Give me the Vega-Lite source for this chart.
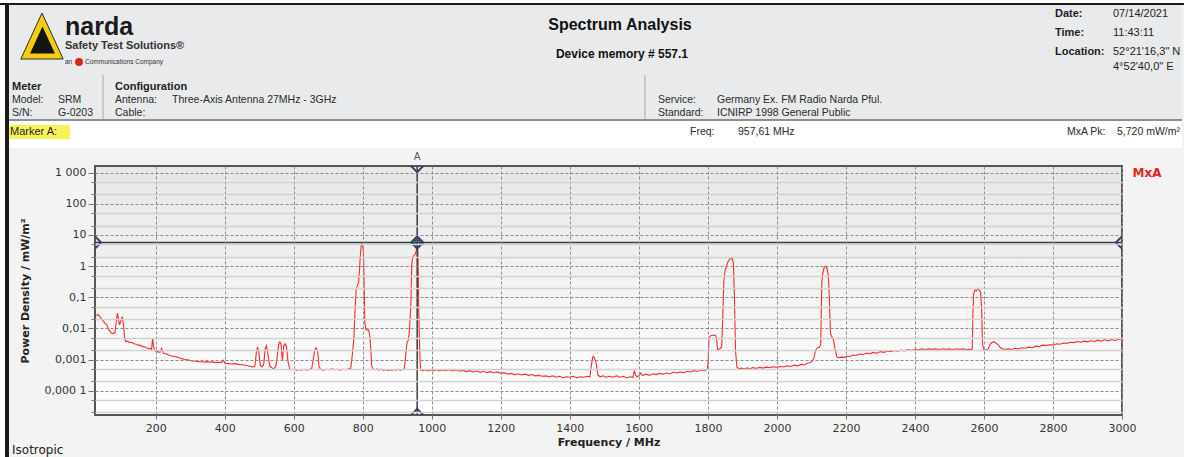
{
"$schema":"https://vega.github.io/schema/vega-lite/v6.json",
"padding":0,
"background":"#f3f3f3",
"spacing":0,
"bounds":"flush",
"config":{"view":{"stroke":null},"text":{"font":"Liberation Sans"}},
"vconcat":[
 {"width":1184,"height":3,"data":{"values":[]},"mark":"point","view":{"fill":"#ffffff"}},
 {"width":1184,"height":2,"data":{"values":[]},"mark":"point","view":{"fill":"#1a1a1a"}},
 {"hconcat":[
  {"width":5,"height":452,"data":{"values":[]},"mark":"point","view":{"fill":"#ffffff"}},
  {"width":2,"height":452,"data":{"values":[]},"mark":"point","view":{"fill":"#1a1a1a"}},
  {"vconcat":[
   {"width":1175,"height":70,"view":{"fill":"#e9eaec"},
    "resolve":{"scale":{"x":"independent","y":"independent"}},
    "layer":[
     {"data":{"values":[{"c":"a","l":1}]},"mark":{"type":"point","shape":"M0,-1L-0.92,1L0.92,1Z","size":2116,"filled":true,"fill":"#f5cd0c","stroke":"#2a2a2a","strokeWidth":1,"opacity":1},
      "encoding":{"x":{"field":"c","type":"nominal","axis":null,"scale":{"type":"point","padding":0,"range":[35,35]}},"y":{"field":"l","type":"ordinal","axis":null,"scale":{"type":"point","padding":0,"range":[31,31]}}}},
     {"data":{"values":[{"c":"a","l":1}]},"mark":{"type":"point","shape":"M0,-1L-0.92,1L0.92,1Z","size":729,"filled":true,"fill":"#141414","strokeWidth":0,"opacity":1},
      "encoding":{"x":{"field":"c","type":"nominal","axis":null,"scale":{"type":"point","padding":0,"range":[35.5,35.5]}},"y":{"field":"l","type":"ordinal","axis":null,"scale":{"type":"point","padding":0,"range":[35,35]}}}},
     {"data":{"values":[{"c":"a","l":1,"t":"narda"}]},"mark":{"type":"text","align":"left","baseline":"alphabetic","fontSize":25,"fontWeight":"bold","fill":"#1a1a1a"},
      "encoding":{"x":{"field":"c","type":"nominal","axis":null,"scale":{"type":"point","padding":0,"range":[58,58]}},"y":{"field":"l","type":"ordinal","axis":null,"scale":{"type":"point","padding":0,"range":[30,30]}},"text":{"field":"t"}}},
     {"data":{"values":[{"c":"a","l":1,"t":"Safety Test Solutions®"}]},"mark":{"type":"text","align":"left","baseline":"middle","fontSize":11,"fontWeight":"bold","fill":"#333333"},
      "encoding":{"x":{"field":"c","type":"nominal","axis":null,"scale":{"type":"point","padding":0,"range":[58,58]}},"y":{"field":"l","type":"ordinal","axis":null,"scale":{"type":"point","padding":0,"range":[41,41]}},"text":{"field":"t"}}},
     {"data":{"values":[{"c":"a","l":1,"t":"an"},{"c":"b","l":1,"t":"Communications Company"}]},"mark":{"type":"text","align":"left","baseline":"middle","fontSize":6.5,"fill":"#333333"},
      "encoding":{"x":{"field":"c","type":"nominal","axis":null,"scale":{"type":"point","padding":0,"range":[58,78]}},"y":{"field":"l","type":"ordinal","axis":null,"scale":{"type":"point","padding":0,"range":[57,57]}},"text":{"field":"t"}}},
     {"data":{"values":[{"c":"a","l":1}]},"mark":{"type":"point","shape":"circle","size":64,"filled":true,"fill":"#d9261c","opacity":1},
      "encoding":{"x":{"field":"c","type":"nominal","axis":null,"scale":{"type":"point","padding":0,"range":[72,72]}},"y":{"field":"l","type":"ordinal","axis":null,"scale":{"type":"point","padding":0,"range":[57,57]}}}},
     {"data":{"values":[{"c":"a","l":1,"t":"Spectrum Analysis"}]},"mark":{"type":"text","align":"center","baseline":"middle","fontSize":16,"fontWeight":"bold","fill":"#111111"},
      "encoding":{"x":{"field":"c","type":"nominal","axis":null,"scale":{"type":"point","padding":0,"range":[613,613]}},"y":{"field":"l","type":"ordinal","axis":null,"scale":{"type":"point","padding":0,"range":[20,20]}},"text":{"field":"t"}}},
     {"data":{"values":[{"c":"a","l":1,"t":"Device memory # 557.1"}]},"mark":{"type":"text","align":"center","baseline":"middle","fontSize":12,"fontWeight":"bold","fill":"#111111"},
      "encoding":{"x":{"field":"c","type":"nominal","axis":null,"scale":{"type":"point","padding":0,"range":[615,615]}},"y":{"field":"l","type":"ordinal","axis":null,"scale":{"type":"point","padding":0,"range":[49,49]}},"text":{"field":"t"}}},
     {"data":{"values":[{"c":"a","l":1,"t":"Date:"},{"c":"a","l":2,"t":"Time:"},{"c":"a","l":3,"t":"Location:"}]},"mark":{"type":"text","align":"left","baseline":"middle","fontSize":11,"fontWeight":"bold","fill":"#1e1e1e"},
      "encoding":{"x":{"field":"c","type":"nominal","axis":null,"scale":{"type":"point","padding":0,"range":[1048,1048]}},"y":{"field":"l","type":"ordinal","axis":null,"scale":{"type":"point","padding":0,"range":[9,47]}},"text":{"field":"t"}}},
     {"data":{"values":[{"c":"a","l":1,"t":"07/14/2021"},{"c":"a","l":2,"t":"11:43:11"},{"c":"a","l":3,"t":"52°21'16,3\" N"}]},"mark":{"type":"text","align":"left","baseline":"middle","fontSize":11,"fill":"#1e1e1e"},
      "encoding":{"x":{"field":"c","type":"nominal","axis":null,"scale":{"type":"point","padding":0,"range":[1106,1106]}},"y":{"field":"l","type":"ordinal","axis":null,"scale":{"type":"point","padding":0,"range":[9,47]}},"text":{"field":"t"}}},
     {"data":{"values":[{"c":"a","l":1,"t":"4°52'40,0\" E"}]},"mark":{"type":"text","align":"left","baseline":"middle","fontSize":11,"fill":"#1e1e1e"},
      "encoding":{"x":{"field":"c","type":"nominal","axis":null,"scale":{"type":"point","padding":0,"range":[1106,1106]}},"y":{"field":"l","type":"ordinal","axis":null,"scale":{"type":"point","padding":0,"range":[62,62]}},"text":{"field":"t"}}}
    ]},
   {"width":1175,"height":44,"view":{"fill":"#e9eaec"},
    "resolve":{"scale":{"x":"independent","y":"independent"}},
    "layer":[
     {"data":{"values":[{"s":"a"},{"s":"b"}]},"mark":{"type":"rule","stroke":"#a8a8a8","strokeWidth":1},
      "encoding":{"x":{"field":"s","type":"nominal","axis":null,"scale":{"type":"point","padding":0,"range":[96,638]}}}},
     {"data":{"values":[{"c":"a","l":1,"t":"Meter"},{"c":"b","l":1,"t":"Configuration"}]},"mark":{"type":"text","align":"left","baseline":"middle","fontSize":11,"fontWeight":"bold","fill":"#1e1e1e"},
      "encoding":{"x":{"field":"c","type":"nominal","axis":null,"scale":{"type":"point","padding":0,"range":[5,108]}},"y":{"field":"l","type":"ordinal","axis":null,"scale":{"type":"point","padding":0,"range":[12,12]}},"text":{"field":"t"}}},
     {"data":{"values":[{"c":"a","l":1,"t":"Model:"},{"c":"b","l":1,"t":"SRM"},{"c":"a","l":2,"t":"S/N:"},{"c":"b","l":2,"t":"G-0203"}]},"mark":{"type":"text","align":"left","baseline":"middle","fontSize":10.5,"fill":"#2a2a2a"},
      "encoding":{"x":{"field":"c","type":"nominal","axis":null,"scale":{"type":"point","padding":0,"range":[5,51]}},"y":{"field":"l","type":"ordinal","axis":null,"scale":{"type":"point","padding":0,"range":[25,38]}},"text":{"field":"t"}}},
     {"data":{"values":[{"c":"a","l":1,"t":"Antenna:"},{"c":"b","l":1,"t":"Three-Axis Antenna 27MHz - 3GHz"},{"c":"a","l":2,"t":"Cable:"}]},"mark":{"type":"text","align":"left","baseline":"middle","fontSize":10.5,"fill":"#2a2a2a"},
      "encoding":{"x":{"field":"c","type":"nominal","axis":null,"scale":{"type":"point","padding":0,"range":[108,165]}},"y":{"field":"l","type":"ordinal","axis":null,"scale":{"type":"point","padding":0,"range":[25,38]}},"text":{"field":"t"}}},
     {"data":{"values":[{"c":"a","l":1,"t":"Service:"},{"c":"b","l":1,"t":"Germany Ex. FM Radio Narda Pful."},{"c":"a","l":2,"t":"Standard:"},{"c":"b","l":2,"t":"ICNIRP 1998 General Public"}]},"mark":{"type":"text","align":"left","baseline":"middle","fontSize":10.5,"fill":"#2a2a2a"},
      "encoding":{"x":{"field":"c","type":"nominal","axis":null,"scale":{"type":"point","padding":0,"range":[651,710]}},"y":{"field":"l","type":"ordinal","axis":null,"scale":{"type":"point","padding":0,"range":[25,38]}},"text":{"field":"t"}}}
    ]},
   {"width":1175,"height":2,"data":{"values":[]},"mark":"point","view":{"fill":"#8f8f8f"}},
   {"width":1175,"height":27,"view":{"fill":"#ffffff"},
    "resolve":{"scale":{"x":"independent","y":"independent"}},
    "layer":[
     {"data":{"values":[{}]},"mark":{"type":"rect","fill":"#f9f35a"},
      "encoding":{"x":{"datum":0,"type":"quantitative","axis":null,"scale":{"domain":[0,1],"range":[1,63]}},"x2":{"datum":1},"y":{"datum":0,"type":"quantitative","axis":null,"scale":{"domain":[0,1],"range":[4,18]}},"y2":{"datum":1}}},
     {"data":{"values":[{"c":"a","l":1,"t":"Marker A:"}]},"mark":{"type":"text","align":"left","baseline":"middle","fontSize":11,"fill":"#1e1e1e"},
      "encoding":{"x":{"field":"c","type":"nominal","axis":null,"scale":{"type":"point","padding":0,"range":[3,3]}},"y":{"field":"l","type":"ordinal","axis":null,"scale":{"type":"point","padding":0,"range":[11,11]}},"text":{"field":"t"}}},
     {"data":{"values":[{"c":"a","l":1,"t":"Freq:"},{"c":"b","l":1,"t":"957,61 MHz"}]},"mark":{"type":"text","align":"left","baseline":"middle","fontSize":10.5,"fill":"#2a2a2a"},
      "encoding":{"x":{"field":"c","type":"nominal","axis":null,"scale":{"type":"point","padding":0,"range":[683,731]}},"y":{"field":"l","type":"ordinal","axis":null,"scale":{"type":"point","padding":0,"range":[11,11]}},"text":{"field":"t"}}},
     {"data":{"values":[{"c":"a","l":1,"t":"MxA Pk:"},{"c":"b","l":1,"t":"5,720 mW/m²"}]},"mark":{"type":"text","align":"left","baseline":"middle","fontSize":10.5,"fill":"#2a2a2a"},
      "encoding":{"x":{"field":"c","type":"nominal","axis":null,"scale":{"type":"point","padding":0,"range":[1060,1110]}},"y":{"field":"l","type":"ordinal","axis":null,"scale":{"type":"point","padding":0,"range":[11,11]}},"text":{"field":"t"}}}
    ]},
   {"width":1175,"height":18,"data":{"values":[]},"mark":"point"},
   {"hconcat":[
     {"width":88,"height":249,"data":{"values":[]},"mark":"point"},
     {"width":1027,"height":249,
      "data":{"values":[
{"f":27,"p":0.026},{"f":33,"p":0.028},{"f":38,"p":0.024},{"f":45,"p":0.019},{"f":52,"p":0.015},{"f":58,"p":0.013},{"f":64,"p":0.009},{"f":70,"p":0.0072},{"f":76,"p":0.0068},{"f":82,"p":0.0075},{"f":86,"p":0.018},{"f":89,"p":0.031},{"f":92,"p":0.02},{"f":95,"p":0.013},{"f":99,"p":0.018},{"f":103,"p":0.024},{"f":107,"p":0.012},{"f":110,"p":0.0045},{"f":113,"p":0.0038},{"f":118,"p":0.0039},{"f":124,"p":0.0035},{"f":130,"p":0.0036},{"f":137,"p":0.0032},{"f":144,"p":0.0031},{"f":150,"p":0.0029},{"f":157,"p":0.0028},{"f":164,"p":0.0026},{"f":171,"p":0.0025},{"f":178,"p":0.0022},{"f":184,"p":0.0023},{"f":188,"p":0.0021},{"f":191,"p":0.0048},{"f":194,"p":0.0025},{"f":198,"p":0.0019},{"f":205,"p":0.0018},{"f":212,"p":0.0017},{"f":217,"p":0.0023},{"f":222,"p":0.0016},{"f":230,"p":0.0015},{"f":238,"p":0.0014},{"f":246,"p":0.0013},{"f":254,"p":0.00125},{"f":262,"p":0.0012},{"f":270,"p":0.0011},{"f":278,"p":0.00105},{"f":286,"p":0.001},{"f":294,"p":0.00098},{"f":302,"p":0.00092},{"f":310,"p":0.0009},{"f":318,"p":0.00088},{"f":326,"p":0.00086},{"f":334,"p":0.00085},{"f":342,"p":0.00083},{"f":350,"p":0.00086},{"f":358,"p":0.00082},{"f":366,"p":0.00084},{"f":374,"p":0.0008},{"f":382,"p":0.00082},{"f":390,"p":0.0008},{"f":396,"p":0.00095},{"f":400,"p":0.00076},{"f":410,"p":0.00074},{"f":420,"p":0.00072},{"f":430,"p":0.00074},{"f":440,"p":0.0007},{"f":450,"p":0.00068},{"f":460,"p":0.00066},{"f":470,"p":0.00062},{"f":480,"p":0.00058},{"f":487,"p":0.0006},{"f":492,"p":0.0018},{"f":495,"p":0.0025},{"f":499,"p":0.0017},{"f":503,"p":0.00065},{"f":508,"p":0.00058},{"f":513,"p":0.0007},{"f":517,"p":0.0022},{"f":521,"p":0.0028},{"f":525,"p":0.0015},{"f":530,"p":0.00065},{"f":536,"p":0.00055},{"f":542,"p":0.0005},{"f":548,"p":0.0006},{"f":553,"p":0.0015},{"f":557,"p":0.0034},{"f":560,"p":0.0037},{"f":563,"p":0.0032},{"f":567,"p":0.0009},{"f":571,"p":0.0028},{"f":575,"p":0.0032},{"f":579,"p":0.0026},{"f":583,"p":0.0009},{"f":588,"p":0.0005},{"f":595,"p":0.00047},{"f":602,"p":0.00049},{"f":608,"p":0.00045},{"f":615,"p":0.00048},{"f":622,"p":0.00046},{"f":630,"p":0.00049},{"f":638,"p":0.00046},{"f":646,"p":0.00048},{"f":652,"p":0.00052},{"f":657,"p":0.0011},{"f":661,"p":0.0021},{"f":665,"p":0.0024},{"f":669,"p":0.0019},{"f":673,"p":0.0006},{"f":678,"p":0.00048},{"f":686,"p":0.00046},{"f":694,"p":0.00049},{"f":702,"p":0.00047},{"f":710,"p":0.0005},{"f":718,"p":0.00047},{"f":726,"p":0.00049},{"f":734,"p":0.00046},{"f":742,"p":0.00049},{"f":750,"p":0.00047},{"f":758,"p":0.0005},{"f":765,"p":0.00052},{"f":769,"p":0.0012},{"f":774,"p":0.0045},{"f":778,"p":0.05},{"f":781,"p":0.19},{"f":785,"p":0.25},{"f":788,"p":0.3},{"f":792,"p":1.5},{"f":795,"p":4.5},{"f":797,"p":5.2},{"f":800,"p":4.4},{"f":802,"p":2.6},{"f":804,"p":0.2},{"f":806,"p":0.015},{"f":809,"p":0.009},{"f":813,"p":0.0088},{"f":817,"p":0.0091},{"f":820,"p":0.006},{"f":823,"p":0.0025},{"f":826,"p":0.0006},{"f":830,"p":0.00049},{"f":836,"p":0.00047},{"f":842,"p":0.0005},{"f":848,"p":0.00046},{"f":854,"p":0.00049},{"f":860,"p":0.00045},{"f":866,"p":0.00048},{"f":872,"p":0.00044},{"f":878,"p":0.00047},{"f":884,"p":0.00045},{"f":890,"p":0.00048},{"f":896,"p":0.00046},{"f":902,"p":0.00049},{"f":908,"p":0.00045},{"f":914,"p":0.00048},{"f":920,"p":0.0005},{"f":924,"p":0.0012},{"f":928,"p":0.0035},{"f":932,"p":0.0042},{"f":935,"p":0.008},{"f":939,"p":0.05},{"f":942,"p":1.2},{"f":945,"p":2.0},{"f":949,"p":2.2},{"f":952,"p":2.4},{"f":955,"p":3.2},{"f":957.61,"p":5.72},{"f":960,"p":2.5},{"f":962,"p":0.05},{"f":964,"p":0.0043},{"f":966,"p":0.0009},{"f":968,"p":0.00046},{"f":975,"p":0.00044},{"f":982,"p":0.00047},{"f":990,"p":0.00043},{"f":998,"p":0.00046},{"f":1006,"p":0.00044},{"f":1014,"p":0.00047},{"f":1022,"p":0.00043},{"f":1030,"p":0.00046},{"f":1040,"p":0.00044},{"f":1050,"p":0.00047},{"f":1060,"p":0.00043},{"f":1070,"p":0.00046},{"f":1080,"p":0.00042},{"f":1090,"p":0.00045},{"f":1100,"p":0.00041},{"f":1110,"p":0.00044},{"f":1120,"p":0.0004},{"f":1130,"p":0.00043},{"f":1140,"p":0.00039},{"f":1150,"p":0.00042},{"f":1160,"p":0.00038},{"f":1170,"p":0.00041},{"f":1180,"p":0.00037},{"f":1190,"p":0.0004},{"f":1200,"p":0.00036},{"f":1210,"p":0.00038},{"f":1220,"p":0.00034},{"f":1230,"p":0.00036},{"f":1240,"p":0.00033},{"f":1250,"p":0.00035},{"f":1260,"p":0.00032},{"f":1270,"p":0.00034},{"f":1280,"p":0.00031},{"f":1290,"p":0.00033},{"f":1300,"p":0.0003},{"f":1310,"p":0.00031},{"f":1320,"p":0.00029},{"f":1330,"p":0.0003},{"f":1340,"p":0.00028},{"f":1350,"p":0.0003},{"f":1360,"p":0.00027},{"f":1370,"p":0.00029},{"f":1380,"p":0.00026},{"f":1390,"p":0.00028},{"f":1400,"p":0.00027},{"f":1410,"p":0.00029},{"f":1420,"p":0.00026},{"f":1430,"p":0.00028},{"f":1440,"p":0.00027},{"f":1450,"p":0.00029},{"f":1458,"p":0.00028},{"f":1462,"p":0.0006},{"f":1466,"p":0.0012},{"f":1469,"p":0.00126},{"f":1473,"p":0.001},{"f":1477,"p":0.0007},{"f":1481,"p":0.00032},{"f":1488,"p":0.00028},{"f":1496,"p":0.0003},{"f":1505,"p":0.00027},{"f":1515,"p":0.00029},{"f":1525,"p":0.00027},{"f":1535,"p":0.0003},{"f":1545,"p":0.00027},{"f":1555,"p":0.00029},{"f":1565,"p":0.00026},{"f":1575,"p":0.00028},{"f":1583,"p":0.00027},{"f":1587,"p":0.00045},{"f":1590,"p":0.00032},{"f":1595,"p":0.00028},{"f":1600,"p":0.0003},{"f":1605,"p":0.00037},{"f":1610,"p":0.00031},{"f":1620,"p":0.00034},{"f":1630,"p":0.00031},{"f":1640,"p":0.00035},{"f":1650,"p":0.00033},{"f":1660,"p":0.00036},{"f":1670,"p":0.00034},{"f":1680,"p":0.00037},{"f":1690,"p":0.00035},{"f":1700,"p":0.00039},{"f":1710,"p":0.00037},{"f":1720,"p":0.0004},{"f":1730,"p":0.00038},{"f":1740,"p":0.00042},{"f":1750,"p":0.0004},{"f":1760,"p":0.00044},{"f":1770,"p":0.00042},{"f":1780,"p":0.00046},{"f":1790,"p":0.00044},{"f":1798,"p":0.00049},{"f":1801,"p":0.0009},{"f":1803,"p":0.0048},{"f":1808,"p":0.0058},{"f":1815,"p":0.006},{"f":1821,"p":0.0061},{"f":1825,"p":0.005},{"f":1828,"p":0.0021},{"f":1834,"p":0.0022},{"f":1840,"p":0.0025},{"f":1843,"p":0.02},{"f":1846,"p":0.3},{"f":1850,"p":0.75},{"f":1853,"p":0.9},{"f":1857,"p":1.3},{"f":1862,"p":1.6},{"f":1867,"p":1.8},{"f":1871,"p":1.75},{"f":1874,"p":1.2},{"f":1877,"p":0.1},{"f":1880,"p":0.002},{"f":1884,"p":0.00058},{"f":1890,"p":0.0005},{"f":1898,"p":0.00053},{"f":1906,"p":0.0005},{"f":1914,"p":0.00054},{"f":1922,"p":0.00051},{"f":1930,"p":0.00055},{"f":1940,"p":0.00052},{"f":1950,"p":0.00056},{"f":1960,"p":0.00053},{"f":1970,"p":0.00057},{"f":1980,"p":0.00055},{"f":1990,"p":0.00059},{"f":2000,"p":0.00056},{"f":2010,"p":0.0006},{"f":2020,"p":0.00058},{"f":2030,"p":0.00063},{"f":2040,"p":0.0006},{"f":2050,"p":0.00066},{"f":2060,"p":0.00063},{"f":2070,"p":0.0007},{"f":2080,"p":0.00067},{"f":2090,"p":0.00078},{"f":2098,"p":0.0008},{"f":2104,"p":0.00095},{"f":2108,"p":0.0012},{"f":2112,"p":0.002},{"f":2118,"p":0.0024},{"f":2123,"p":0.0025},{"f":2127,"p":0.003},{"f":2130,"p":0.3},{"f":2133,"p":0.62},{"f":2137,"p":0.9},{"f":2141,"p":1.0},{"f":2145,"p":0.85},{"f":2149,"p":0.5},{"f":2152,"p":0.1},{"f":2155,"p":0.007},{"f":2159,"p":0.0055},{"f":2164,"p":0.0042},{"f":2169,"p":0.002},{"f":2174,"p":0.0012},{"f":2180,"p":0.00115},{"f":2188,"p":0.0012},{"f":2196,"p":0.00118},{"f":2204,"p":0.0013},{"f":2212,"p":0.00125},{"f":2220,"p":0.0014},{"f":2230,"p":0.00135},{"f":2240,"p":0.0015},{"f":2250,"p":0.00145},{"f":2260,"p":0.0016},{"f":2270,"p":0.00155},{"f":2280,"p":0.0017},{"f":2290,"p":0.0016},{"f":2300,"p":0.0018},{"f":2310,"p":0.0017},{"f":2320,"p":0.0019},{"f":2330,"p":0.0018},{"f":2340,"p":0.00195},{"f":2350,"p":0.00185},{"f":2360,"p":0.002},{"f":2370,"p":0.0019},{"f":2380,"p":0.0021},{"f":2390,"p":0.002},{"f":2400,"p":0.0021},{"f":2410,"p":0.00205},{"f":2420,"p":0.0022},{"f":2430,"p":0.0021},{"f":2440,"p":0.0022},{"f":2450,"p":0.00212},{"f":2460,"p":0.0022},{"f":2470,"p":0.0021},{"f":2480,"p":0.00222},{"f":2490,"p":0.00212},{"f":2500,"p":0.0022},{"f":2510,"p":0.0021},{"f":2520,"p":0.00222},{"f":2530,"p":0.00212},{"f":2540,"p":0.0022},{"f":2550,"p":0.0021},{"f":2560,"p":0.00215},{"f":2566,"p":0.0021},{"f":2568,"p":0.03},{"f":2570,"p":0.13},{"f":2574,"p":0.17},{"f":2578,"p":0.16},{"f":2582,"p":0.19},{"f":2586,"p":0.17},{"f":2590,"p":0.15},{"f":2593,"p":0.05},{"f":2596,"p":0.003},{"f":2600,"p":0.0021},{"f":2606,"p":0.002},{"f":2612,"p":0.0022},{"f":2618,"p":0.0031},{"f":2624,"p":0.0036},{"f":2630,"p":0.0037},{"f":2636,"p":0.0033},{"f":2642,"p":0.0029},{"f":2648,"p":0.0024},{"f":2654,"p":0.0022},{"f":2662,"p":0.00215},{"f":2670,"p":0.0022},{"f":2680,"p":0.0021},{"f":2690,"p":0.0023},{"f":2700,"p":0.0022},{"f":2710,"p":0.0024},{"f":2720,"p":0.0023},{"f":2730,"p":0.0025},{"f":2740,"p":0.0024},{"f":2750,"p":0.0027},{"f":2760,"p":0.0026},{"f":2770,"p":0.0029},{"f":2780,"p":0.0028},{"f":2790,"p":0.003},{"f":2800,"p":0.0029},{"f":2810,"p":0.0032},{"f":2820,"p":0.0031},{"f":2830,"p":0.0034},{"f":2840,"p":0.0033},{"f":2850,"p":0.0036},{"f":2860,"p":0.0035},{"f":2870,"p":0.0038},{"f":2880,"p":0.0036},{"f":2890,"p":0.0039},{"f":2900,"p":0.0037},{"f":2910,"p":0.004},{"f":2920,"p":0.0038},{"f":2930,"p":0.0042},{"f":2940,"p":0.0039},{"f":2950,"p":0.0043},{"f":2960,"p":0.004},{"f":2970,"p":0.0044},{"f":2980,"p":0.0041},{"f":2990,"p":0.0045},{"f":2998,"p":0.0046},{"f":3000,"p":0.0036}
      ]},
      "layer":[
       {"data":{"values":[{}]},"mark":{"type":"rect","fill":{"gradient":"linear","x1":0,"y1":0,"x2":0,"y2":1,"stops":[{"offset":0,"color":"#e7e7e7"},{"offset":1,"color":"#ffffff"}]},"stroke":"#555555","strokeWidth":2,"zindex":0},
        "encoding":{"x":{"datum":24,"type":"quantitative"},"x2":{"datum":3000},"y":{"datum":0.0000166,"type":"quantitative"},"y2":{"datum":1640}}},
       {"mark":{"type":"line","stroke":"#ff2a2a","strokeWidth":1.1,"zindex":2},
        "encoding":{
         "x":{"field":"f","type":"quantitative","scale":{"domain":[24,3000],"nice":false,"zero":false},
              "axis":{"values":[200,400,600,800,1000,1200,1400,1600,1800,2000,2200,2400,2600,2800,3000],"format":"d","grid":true,"gridColor":"#8c8c8c","gridDash":[3,2],"gridWidth":1,"tickSize":4,"tickColor":"#777777","domain":false,"labelFont":"DejaVu Sans","labelFontSize":11,"labelColor":"#333333","labelPadding":3,"labelFlush":false,"labelOverlap":false,"title":"Frequency / MHz","titleFont":"DejaVu Sans","titleFontSize":11,"titleFontWeight":"bold","titleColor":"#222222","titlePadding":3,"zindex":1}},
         "y":{"field":"p","type":"quantitative","scale":{"type":"log","domain":[0.0000166,1640],"nice":false},
              "axis":{"values":[0.00002,0.00005,0.0001,0.0002,0.0005,0.001,0.002,0.005,0.01,0.02,0.05,0.1,0.2,0.5,1,2,5,10,20,50,100,200,500,1000],
                "labelExpr":"datum.value==1000?'1 000':datum.value==100?'100':datum.value==10?'10':datum.value==1?'1':datum.value==0.1?'0,1':datum.value==0.01?'0,01':datum.value==0.001?'0,001':datum.value==0.0001?'0,000 1':''",
                "grid":true,
                "gridColor":{"condition":{"test":"datum.value==1000||datum.value==100||datum.value==10||datum.value==1||datum.value==0.1||datum.value==0.01||datum.value==0.001||datum.value==0.0001","value":"#8c8c8c"},"value":"#d2d2d2"},
                "gridDash":{"condition":{"test":"datum.value==1000||datum.value==100||datum.value==10||datum.value==1||datum.value==0.1||datum.value==0.01||datum.value==0.001||datum.value==0.0001","value":[3,2]},"value":[]},
                "gridWidth":{"condition":{"test":"datum.value==1000||datum.value==100||datum.value==10||datum.value==1||datum.value==0.1||datum.value==0.01||datum.value==0.001||datum.value==0.0001","value":1},"value":1.5},
                "tickSize":{"condition":{"test":"datum.value==1000||datum.value==100||datum.value==10||datum.value==1||datum.value==0.1||datum.value==0.01||datum.value==0.001||datum.value==0.0001","value":7},"value":4},
                "tickColor":"#777777","domain":false,"labelFont":"DejaVu Sans","labelFontSize":11,"labelColor":"#333333","labelPadding":2,"labelFlush":false,"labelOverlap":false,
                "title":"Power Density / mW/m²","titleFont":"DejaVu Sans","titleFontSize":11,"titleFontWeight":"bold","titleColor":"#222222","titlePadding":14,"zindex":1}}}},
       {"data":{"values":[{}]},"mark":{"type":"rule","stroke":"#3a3a3a","strokeWidth":1.5,"zindex":2},"encoding":{"x":{"datum":957.61}}},
       {"data":{"values":[{}]},"mark":{"type":"rule","stroke":"#3a3a3a","strokeWidth":1.5,"zindex":2},"encoding":{"y":{"datum":5.72}}},
       {"data":{"values":[{"f":957.61,"p":5.72},{"f":957.61,"p":1640},{"f":957.61,"p":0.0000166},{"f":24,"p":5.72},{"f":3000,"p":5.72}]},
        "mark":{"type":"point","shape":"diamond","size":150,"filled":false,"stroke":"#2e4468","strokeWidth":2,"opacity":1,"clip":true,"zindex":3},
        "encoding":{"x":{"field":"f","type":"quantitative"},"y":{"field":"p","type":"quantitative"}}},
       {"data":{"values":[{"f":957.61,"p":5.72}]},
        "mark":{"type":"point","shape":"circle","size":30,"filled":false,"stroke":"#2e4468","strokeWidth":1.5,"opacity":1,"zindex":3},
        "encoding":{"x":{"field":"f","type":"quantitative"},"y":{"field":"p","type":"quantitative"}}},
       {"data":{"values":[{}]},"mark":{"type":"text","text":"A","font":"DejaVu Sans","fontSize":10,"fill":"#555555","align":"center","baseline":"middle","dy":-9},
        "encoding":{"x":{"datum":957.61},"y":{"datum":1640}}},
       {"data":{"values":[{}]},"mark":{"type":"text","text":"MxA","font":"DejaVu Sans","fontSize":12,"fontWeight":"bold","fill":"#e8211b","align":"center","baseline":"middle","dx":25},
        "encoding":{"x":{"datum":3000},"y":{"datum":1000}}},
       {"data":{"values":[{}]},"mark":{"type":"text","text":"Isotropic","font":"DejaVu Sans","fontSize":12,"fill":"#222222","align":"left","baseline":"middle","dx":-83,"dy":35},
        "encoding":{"x":{"datum":24},"y":{"datum":0.0000166}}}
      ]}
   ],"spacing":0,"bounds":"flush"}
  ],"spacing":0,"bounds":"flush"},
  {"width":2,"height":452,"data":{"values":[]},"mark":"point","view":{"fill":"#1a1a1a"}}
 ],"spacing":0,"bounds":"flush"}
]
}
